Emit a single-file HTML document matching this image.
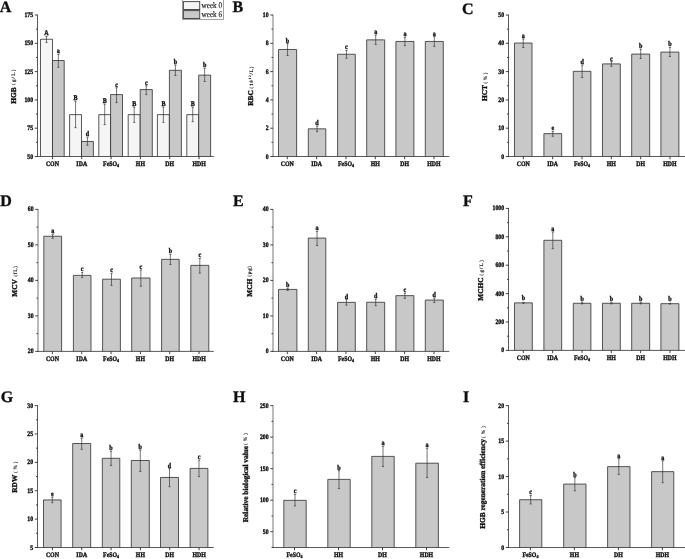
<!DOCTYPE html>
<html lang="en"><head><meta charset="utf-8"><title>Figure</title>
<style>
html,body{margin:0;padding:0;background:#fff;}
body{width:685px;height:559px;overflow:hidden;}
svg{display:block;}
</style></head><body>
<svg width="685" height="559" viewBox="0 0 685 559" font-family='"Liberation Serif","Noto Serif CJK SC",serif' fill="#111" text-rendering="geometricPrecision">
<defs><filter id="soft" x="-2%" y="-2%" width="104%" height="104%"><feGaussianBlur stdDeviation="0.33"/></filter></defs>
<rect x="0" y="0" width="685" height="559" fill="#fff" stroke="none"/>
<g filter="url(#soft)">
<rect x="40.50" y="39.25" width="12.00" height="117.25" fill="#f5f5f5"/>
<path d="M40.50 156.50V39.25H52.50V156.50" fill="none" stroke="#2e2e2e" stroke-width="0.8"/>
<rect x="52.50" y="60.50" width="11.70" height="96.00" fill="#c8c8c8"/>
<path d="M52.50 156.50V60.50H64.20V156.50" fill="none" stroke="#2e2e2e" stroke-width="0.8"/>
<rect x="69.60" y="114.61" width="11.90" height="41.89" fill="#f5f5f5"/>
<path d="M69.60 156.50V114.61H81.50V156.50" fill="none" stroke="#2e2e2e" stroke-width="0.8"/>
<rect x="81.50" y="141.47" width="11.90" height="15.03" fill="#c8c8c8"/>
<path d="M81.50 156.50V141.47H93.40V156.50" fill="none" stroke="#2e2e2e" stroke-width="0.8"/>
<rect x="98.80" y="114.61" width="11.80" height="41.89" fill="#f5f5f5"/>
<path d="M98.80 156.50V114.61H110.60V156.50" fill="none" stroke="#2e2e2e" stroke-width="0.8"/>
<rect x="110.60" y="94.57" width="11.90" height="61.93" fill="#c8c8c8"/>
<path d="M110.60 156.50V94.57H122.50V156.50" fill="none" stroke="#2e2e2e" stroke-width="0.8"/>
<rect x="128.20" y="114.61" width="12.00" height="41.89" fill="#f5f5f5"/>
<path d="M128.20 156.50V114.61H140.20V156.50" fill="none" stroke="#2e2e2e" stroke-width="0.8"/>
<rect x="140.20" y="89.56" width="12.10" height="66.94" fill="#c8c8c8"/>
<path d="M140.20 156.50V89.56H152.30V156.50" fill="none" stroke="#2e2e2e" stroke-width="0.8"/>
<rect x="157.40" y="114.61" width="12.00" height="41.89" fill="#f5f5f5"/>
<path d="M157.40 156.50V114.61H169.40V156.50" fill="none" stroke="#2e2e2e" stroke-width="0.8"/>
<rect x="169.40" y="70.32" width="12.00" height="86.18" fill="#c8c8c8"/>
<path d="M169.40 156.50V70.32H181.40V156.50" fill="none" stroke="#2e2e2e" stroke-width="0.8"/>
<rect x="186.80" y="114.61" width="11.90" height="41.89" fill="#f5f5f5"/>
<path d="M186.80 156.50V114.61H198.70V156.50" fill="none" stroke="#2e2e2e" stroke-width="0.8"/>
<rect x="198.70" y="75.13" width="11.90" height="81.37" fill="#c8c8c8"/>
<path d="M198.70 156.50V75.13H210.60V156.50" fill="none" stroke="#2e2e2e" stroke-width="0.8"/>
<line x1="46.50" y1="36.45" x2="46.50" y2="42.46" stroke="#2e2e2e" stroke-width="0.65"/>
<line x1="45.40" y1="36.45" x2="47.60" y2="36.45" stroke="#2e2e2e" stroke-width="0.65"/>
<line x1="45.40" y1="42.46" x2="47.60" y2="42.46" stroke="#2e2e2e" stroke-width="0.65"/>
<text transform="translate(46.50,35.35) scale(0.93,1.1)" font-size="6.5" text-anchor="middle" font-weight="bold" stroke="#111" stroke-width="0.34">A</text>
<line x1="58.35" y1="54.48" x2="58.35" y2="67.31" stroke="#2e2e2e" stroke-width="0.65"/>
<line x1="57.25" y1="54.48" x2="59.45" y2="54.48" stroke="#2e2e2e" stroke-width="0.65"/>
<line x1="57.25" y1="67.31" x2="59.45" y2="67.31" stroke="#2e2e2e" stroke-width="0.65"/>
<text transform="translate(58.35,53.38) scale(0.93,1.1)" font-size="6.5" text-anchor="middle" font-weight="bold" stroke="#111" stroke-width="0.34">a</text>
<line x1="75.55" y1="101.18" x2="75.55" y2="127.64" stroke="#2e2e2e" stroke-width="0.65"/>
<line x1="74.45" y1="101.18" x2="76.65" y2="101.18" stroke="#2e2e2e" stroke-width="0.65"/>
<line x1="74.45" y1="127.64" x2="76.65" y2="127.64" stroke="#2e2e2e" stroke-width="0.65"/>
<text transform="translate(75.55,100.08) scale(0.93,1.1)" font-size="6.5" text-anchor="middle" font-weight="bold" stroke="#111" stroke-width="0.34">B</text>
<line x1="87.45" y1="137.26" x2="87.45" y2="145.28" stroke="#2e2e2e" stroke-width="0.65"/>
<line x1="86.35" y1="137.26" x2="88.55" y2="137.26" stroke="#2e2e2e" stroke-width="0.65"/>
<line x1="86.35" y1="145.28" x2="88.55" y2="145.28" stroke="#2e2e2e" stroke-width="0.65"/>
<text transform="translate(87.45,136.16) scale(0.93,1.1)" font-size="6.5" text-anchor="middle" font-weight="bold" stroke="#111" stroke-width="0.34">d</text>
<line x1="104.70" y1="104.19" x2="104.70" y2="124.63" stroke="#2e2e2e" stroke-width="0.65"/>
<line x1="103.60" y1="104.19" x2="105.80" y2="104.19" stroke="#2e2e2e" stroke-width="0.65"/>
<line x1="103.60" y1="124.63" x2="105.80" y2="124.63" stroke="#2e2e2e" stroke-width="0.65"/>
<text transform="translate(104.70,103.09) scale(0.93,1.1)" font-size="6.5" text-anchor="middle" font-weight="bold" stroke="#111" stroke-width="0.34">B</text>
<line x1="116.55" y1="87.75" x2="116.55" y2="102.59" stroke="#2e2e2e" stroke-width="0.65"/>
<line x1="115.45" y1="87.75" x2="117.65" y2="87.75" stroke="#2e2e2e" stroke-width="0.65"/>
<line x1="115.45" y1="102.59" x2="117.65" y2="102.59" stroke="#2e2e2e" stroke-width="0.65"/>
<text transform="translate(116.55,86.65) scale(0.93,1.1)" font-size="6.5" text-anchor="middle" font-weight="bold" stroke="#111" stroke-width="0.34">c</text>
<line x1="134.20" y1="107.20" x2="134.20" y2="122.43" stroke="#2e2e2e" stroke-width="0.65"/>
<line x1="133.10" y1="107.20" x2="135.30" y2="107.20" stroke="#2e2e2e" stroke-width="0.65"/>
<line x1="133.10" y1="122.43" x2="135.30" y2="122.43" stroke="#2e2e2e" stroke-width="0.65"/>
<text transform="translate(134.20,106.10) scale(0.93,1.1)" font-size="6.5" text-anchor="middle" font-weight="bold" stroke="#111" stroke-width="0.34">B</text>
<line x1="146.25" y1="85.75" x2="146.25" y2="94.57" stroke="#2e2e2e" stroke-width="0.65"/>
<line x1="145.15" y1="85.75" x2="147.35" y2="85.75" stroke="#2e2e2e" stroke-width="0.65"/>
<line x1="145.15" y1="94.57" x2="147.35" y2="94.57" stroke="#2e2e2e" stroke-width="0.65"/>
<text transform="translate(146.25,84.65) scale(0.93,1.1)" font-size="6.5" text-anchor="middle" font-weight="bold" stroke="#111" stroke-width="0.34">c</text>
<line x1="163.40" y1="107.20" x2="163.40" y2="122.43" stroke="#2e2e2e" stroke-width="0.65"/>
<line x1="162.30" y1="107.20" x2="164.50" y2="107.20" stroke="#2e2e2e" stroke-width="0.65"/>
<line x1="162.30" y1="122.43" x2="164.50" y2="122.43" stroke="#2e2e2e" stroke-width="0.65"/>
<text transform="translate(163.40,106.10) scale(0.93,1.1)" font-size="6.5" text-anchor="middle" font-weight="bold" stroke="#111" stroke-width="0.34">B</text>
<line x1="175.40" y1="65.11" x2="175.40" y2="75.53" stroke="#2e2e2e" stroke-width="0.65"/>
<line x1="174.30" y1="65.11" x2="176.50" y2="65.11" stroke="#2e2e2e" stroke-width="0.65"/>
<line x1="174.30" y1="75.53" x2="176.50" y2="75.53" stroke="#2e2e2e" stroke-width="0.65"/>
<text transform="translate(175.40,64.01) scale(0.93,1.1)" font-size="6.5" text-anchor="middle" font-weight="bold" stroke="#111" stroke-width="0.34">b</text>
<line x1="192.75" y1="107.20" x2="192.75" y2="121.63" stroke="#2e2e2e" stroke-width="0.65"/>
<line x1="191.65" y1="107.20" x2="193.85" y2="107.20" stroke="#2e2e2e" stroke-width="0.65"/>
<line x1="191.65" y1="121.63" x2="193.85" y2="121.63" stroke="#2e2e2e" stroke-width="0.65"/>
<text transform="translate(192.75,106.10) scale(0.93,1.1)" font-size="6.5" text-anchor="middle" font-weight="bold" stroke="#111" stroke-width="0.34">B</text>
<line x1="204.65" y1="68.31" x2="204.65" y2="81.54" stroke="#2e2e2e" stroke-width="0.65"/>
<line x1="203.55" y1="68.31" x2="205.75" y2="68.31" stroke="#2e2e2e" stroke-width="0.65"/>
<line x1="203.55" y1="81.54" x2="205.75" y2="81.54" stroke="#2e2e2e" stroke-width="0.65"/>
<text transform="translate(204.65,67.21) scale(0.93,1.1)" font-size="6.5" text-anchor="middle" font-weight="bold" stroke="#111" stroke-width="0.34">b</text>
<line x1="37.50" y1="14.60" x2="37.50" y2="156.95" stroke="#2e2e2e" stroke-width="0.8"/>
<line x1="37.05" y1="156.50" x2="213.80" y2="156.50" stroke="#2e2e2e" stroke-width="0.8"/>
<line x1="34.80" y1="15.00" x2="37.50" y2="15.00" stroke="#2e2e2e" stroke-width="0.9"/>
<text transform="translate(33.10,17.00) scale(0.93,1.1)" font-size="6.2" text-anchor="end" font-weight="bold" stroke="#111" stroke-width="0.34">175</text>
<line x1="36.00" y1="29.15" x2="37.50" y2="29.15" stroke="#2e2e2e" stroke-width="0.9"/>
<line x1="34.80" y1="43.30" x2="37.50" y2="43.30" stroke="#2e2e2e" stroke-width="0.9"/>
<text transform="translate(33.10,45.30) scale(0.93,1.1)" font-size="6.2" text-anchor="end" font-weight="bold" stroke="#111" stroke-width="0.34">150</text>
<line x1="36.00" y1="57.45" x2="37.50" y2="57.45" stroke="#2e2e2e" stroke-width="0.9"/>
<line x1="34.80" y1="71.60" x2="37.50" y2="71.60" stroke="#2e2e2e" stroke-width="0.9"/>
<text transform="translate(33.10,73.60) scale(0.93,1.1)" font-size="6.2" text-anchor="end" font-weight="bold" stroke="#111" stroke-width="0.34">125</text>
<line x1="36.00" y1="85.75" x2="37.50" y2="85.75" stroke="#2e2e2e" stroke-width="0.9"/>
<line x1="34.80" y1="99.90" x2="37.50" y2="99.90" stroke="#2e2e2e" stroke-width="0.9"/>
<text transform="translate(33.10,101.90) scale(0.93,1.1)" font-size="6.2" text-anchor="end" font-weight="bold" stroke="#111" stroke-width="0.34">100</text>
<line x1="36.00" y1="114.05" x2="37.50" y2="114.05" stroke="#2e2e2e" stroke-width="0.9"/>
<line x1="34.80" y1="128.20" x2="37.50" y2="128.20" stroke="#2e2e2e" stroke-width="0.9"/>
<text transform="translate(33.10,130.20) scale(0.93,1.1)" font-size="6.2" text-anchor="end" font-weight="bold" stroke="#111" stroke-width="0.34">75</text>
<line x1="36.00" y1="142.35" x2="37.50" y2="142.35" stroke="#2e2e2e" stroke-width="0.9"/>
<line x1="34.80" y1="156.50" x2="37.50" y2="156.50" stroke="#2e2e2e" stroke-width="0.9"/>
<text transform="translate(33.10,158.50) scale(0.93,1.1)" font-size="6.2" text-anchor="end" font-weight="bold" stroke="#111" stroke-width="0.34">50</text>
<line x1="52.40" y1="156.50" x2="52.40" y2="159.20" stroke="#2e2e2e" stroke-width="0.9"/>
<text transform="translate(52.40,165.80) scale(0.93,1.1)" font-size="6.3" text-anchor="middle" font-weight="bold" stroke="#111" stroke-width="0.34">CON</text>
<line x1="81.73" y1="156.50" x2="81.73" y2="159.20" stroke="#2e2e2e" stroke-width="0.9"/>
<text transform="translate(81.73,165.80) scale(0.93,1.1)" font-size="6.3" text-anchor="middle" font-weight="bold" stroke="#111" stroke-width="0.34">IDA</text>
<line x1="111.07" y1="156.50" x2="111.07" y2="159.20" stroke="#2e2e2e" stroke-width="0.9"/>
<text transform="translate(111.07,165.80) scale(0.93,1.1)" font-size="6.3" text-anchor="middle" font-weight="bold" stroke="#111" stroke-width="0.34">FeSO<tspan font-size="4.2" dy="1.3">4</tspan></text>
<line x1="140.40" y1="156.50" x2="140.40" y2="159.20" stroke="#2e2e2e" stroke-width="0.9"/>
<text transform="translate(140.40,165.80) scale(0.93,1.1)" font-size="6.3" text-anchor="middle" font-weight="bold" stroke="#111" stroke-width="0.34">HH</text>
<line x1="169.73" y1="156.50" x2="169.73" y2="159.20" stroke="#2e2e2e" stroke-width="0.9"/>
<text transform="translate(169.73,165.80) scale(0.93,1.1)" font-size="6.3" text-anchor="middle" font-weight="bold" stroke="#111" stroke-width="0.34">DH</text>
<line x1="199.07" y1="156.50" x2="199.07" y2="159.20" stroke="#2e2e2e" stroke-width="0.9"/>
<text transform="translate(199.07,165.80) scale(0.93,1.1)" font-size="6.3" text-anchor="middle" font-weight="bold" stroke="#111" stroke-width="0.34">HDH</text>
<text transform="translate(15.80,103.70) rotate(-90) scale(1.035,1.05)" text-anchor="start" font-weight="bold" font-size="7.1" stroke="#111" stroke-width="0.34">HGB</text>
<text transform="translate(15.40,85.00) rotate(-90)" text-anchor="start" font-weight="bold" font-size="5.0" textLength="15.50" lengthAdjust="spacing" stroke="#111" stroke-width="0.12"><tspan font-weight="normal">(</tspan>g/L<tspan font-weight="normal">)</tspan></text>
<text transform="translate(-0.30,11.90)" font-size="16.0" text-anchor="start" font-weight="bold" stroke="#111" stroke-width="0.34">A</text>
<rect x="278.50" y="49.47" width="18.10" height="107.03" fill="#c8c8c8"/>
<path d="M278.50 156.50V49.47H296.60V156.50" fill="none" stroke="#2e2e2e" stroke-width="0.8"/>
<rect x="308.30" y="128.84" width="17.50" height="27.66" fill="#c8c8c8"/>
<path d="M308.30 156.50V128.84H325.80V156.50" fill="none" stroke="#2e2e2e" stroke-width="0.8"/>
<rect x="337.60" y="54.28" width="17.70" height="102.22" fill="#c8c8c8"/>
<path d="M337.60 156.50V54.28H355.30V156.50" fill="none" stroke="#2e2e2e" stroke-width="0.8"/>
<rect x="366.70" y="39.85" width="18.00" height="116.65" fill="#c8c8c8"/>
<path d="M366.70 156.50V39.85H384.70V156.50" fill="none" stroke="#2e2e2e" stroke-width="0.8"/>
<rect x="395.90" y="41.46" width="18.00" height="115.04" fill="#c8c8c8"/>
<path d="M395.90 156.50V41.46H413.90V156.50" fill="none" stroke="#2e2e2e" stroke-width="0.8"/>
<rect x="425.30" y="41.46" width="18.00" height="115.04" fill="#c8c8c8"/>
<path d="M425.30 156.50V41.46H443.30V156.50" fill="none" stroke="#2e2e2e" stroke-width="0.8"/>
<line x1="287.55" y1="43.66" x2="287.55" y2="55.49" stroke="#2e2e2e" stroke-width="0.65"/>
<line x1="286.45" y1="43.66" x2="288.65" y2="43.66" stroke="#2e2e2e" stroke-width="0.65"/>
<line x1="286.45" y1="55.49" x2="288.65" y2="55.49" stroke="#2e2e2e" stroke-width="0.65"/>
<text transform="translate(287.55,42.56) scale(0.93,1.1)" font-size="6.5" text-anchor="middle" font-weight="bold" stroke="#111" stroke-width="0.34">b</text>
<line x1="317.05" y1="126.24" x2="317.05" y2="131.65" stroke="#2e2e2e" stroke-width="0.65"/>
<line x1="315.95" y1="126.24" x2="318.15" y2="126.24" stroke="#2e2e2e" stroke-width="0.65"/>
<line x1="315.95" y1="131.65" x2="318.15" y2="131.65" stroke="#2e2e2e" stroke-width="0.65"/>
<text transform="translate(317.05,125.14) scale(0.93,1.1)" font-size="6.5" text-anchor="middle" font-weight="bold" stroke="#111" stroke-width="0.34">d</text>
<line x1="346.45" y1="50.48" x2="346.45" y2="58.29" stroke="#2e2e2e" stroke-width="0.65"/>
<line x1="345.35" y1="50.48" x2="347.55" y2="50.48" stroke="#2e2e2e" stroke-width="0.65"/>
<line x1="345.35" y1="58.29" x2="347.55" y2="58.29" stroke="#2e2e2e" stroke-width="0.65"/>
<text transform="translate(346.45,49.38) scale(0.93,1.1)" font-size="6.5" text-anchor="middle" font-weight="bold" stroke="#111" stroke-width="0.34">c</text>
<line x1="375.70" y1="35.24" x2="375.70" y2="44.46" stroke="#2e2e2e" stroke-width="0.65"/>
<line x1="374.60" y1="35.24" x2="376.80" y2="35.24" stroke="#2e2e2e" stroke-width="0.65"/>
<line x1="374.60" y1="44.46" x2="376.80" y2="44.46" stroke="#2e2e2e" stroke-width="0.65"/>
<text transform="translate(375.70,34.14) scale(0.93,1.1)" font-size="6.5" text-anchor="middle" font-weight="bold" stroke="#111" stroke-width="0.34">a</text>
<line x1="404.90" y1="37.45" x2="404.90" y2="45.67" stroke="#2e2e2e" stroke-width="0.65"/>
<line x1="403.80" y1="37.45" x2="406.00" y2="37.45" stroke="#2e2e2e" stroke-width="0.65"/>
<line x1="403.80" y1="45.67" x2="406.00" y2="45.67" stroke="#2e2e2e" stroke-width="0.65"/>
<text transform="translate(404.90,36.35) scale(0.93,1.1)" font-size="6.5" text-anchor="middle" font-weight="bold" stroke="#111" stroke-width="0.34">a</text>
<line x1="434.30" y1="36.65" x2="434.30" y2="46.47" stroke="#2e2e2e" stroke-width="0.65"/>
<line x1="433.20" y1="36.65" x2="435.40" y2="36.65" stroke="#2e2e2e" stroke-width="0.65"/>
<line x1="433.20" y1="46.47" x2="435.40" y2="46.47" stroke="#2e2e2e" stroke-width="0.65"/>
<text transform="translate(434.30,35.55) scale(0.93,1.1)" font-size="6.5" text-anchor="middle" font-weight="bold" stroke="#111" stroke-width="0.34">a</text>
<line x1="273.00" y1="14.60" x2="273.00" y2="156.95" stroke="#777" stroke-width="1.0"/>
<line x1="272.55" y1="156.50" x2="449.30" y2="156.50" stroke="#2e2e2e" stroke-width="0.8"/>
<line x1="270.30" y1="15.00" x2="273.00" y2="15.00" stroke="#2e2e2e" stroke-width="0.9"/>
<text transform="translate(268.60,17.00) scale(0.93,1.1)" font-size="6.2" text-anchor="end" font-weight="bold" stroke="#111" stroke-width="0.34">10</text>
<line x1="271.50" y1="29.15" x2="273.00" y2="29.15" stroke="#2e2e2e" stroke-width="0.9"/>
<line x1="270.30" y1="43.30" x2="273.00" y2="43.30" stroke="#2e2e2e" stroke-width="0.9"/>
<text transform="translate(268.60,45.30) scale(0.93,1.1)" font-size="6.2" text-anchor="end" font-weight="bold" stroke="#111" stroke-width="0.34">8</text>
<line x1="271.50" y1="57.45" x2="273.00" y2="57.45" stroke="#2e2e2e" stroke-width="0.9"/>
<line x1="270.30" y1="71.60" x2="273.00" y2="71.60" stroke="#2e2e2e" stroke-width="0.9"/>
<text transform="translate(268.60,73.60) scale(0.93,1.1)" font-size="6.2" text-anchor="end" font-weight="bold" stroke="#111" stroke-width="0.34">6</text>
<line x1="271.50" y1="85.75" x2="273.00" y2="85.75" stroke="#2e2e2e" stroke-width="0.9"/>
<line x1="270.30" y1="99.90" x2="273.00" y2="99.90" stroke="#2e2e2e" stroke-width="0.9"/>
<text transform="translate(268.60,101.90) scale(0.93,1.1)" font-size="6.2" text-anchor="end" font-weight="bold" stroke="#111" stroke-width="0.34">4</text>
<line x1="271.50" y1="114.05" x2="273.00" y2="114.05" stroke="#2e2e2e" stroke-width="0.9"/>
<line x1="270.30" y1="128.20" x2="273.00" y2="128.20" stroke="#2e2e2e" stroke-width="0.9"/>
<text transform="translate(268.60,130.20) scale(0.93,1.1)" font-size="6.2" text-anchor="end" font-weight="bold" stroke="#111" stroke-width="0.34">2</text>
<line x1="271.50" y1="142.35" x2="273.00" y2="142.35" stroke="#2e2e2e" stroke-width="0.9"/>
<line x1="270.30" y1="156.50" x2="273.00" y2="156.50" stroke="#2e2e2e" stroke-width="0.9"/>
<text transform="translate(268.60,158.50) scale(0.93,1.1)" font-size="6.2" text-anchor="end" font-weight="bold" stroke="#111" stroke-width="0.34">0</text>
<line x1="287.30" y1="156.50" x2="287.30" y2="159.20" stroke="#2e2e2e" stroke-width="0.9"/>
<text transform="translate(287.30,165.80) scale(0.93,1.1)" font-size="6.3" text-anchor="middle" font-weight="bold" stroke="#111" stroke-width="0.34">CON</text>
<line x1="316.63" y1="156.50" x2="316.63" y2="159.20" stroke="#2e2e2e" stroke-width="0.9"/>
<text transform="translate(316.63,165.80) scale(0.93,1.1)" font-size="6.3" text-anchor="middle" font-weight="bold" stroke="#111" stroke-width="0.34">IDA</text>
<line x1="345.97" y1="156.50" x2="345.97" y2="159.20" stroke="#2e2e2e" stroke-width="0.9"/>
<text transform="translate(345.97,165.80) scale(0.93,1.1)" font-size="6.3" text-anchor="middle" font-weight="bold" stroke="#111" stroke-width="0.34">FeSO<tspan font-size="4.2" dy="1.3">4</tspan></text>
<line x1="375.30" y1="156.50" x2="375.30" y2="159.20" stroke="#2e2e2e" stroke-width="0.9"/>
<text transform="translate(375.30,165.80) scale(0.93,1.1)" font-size="6.3" text-anchor="middle" font-weight="bold" stroke="#111" stroke-width="0.34">HH</text>
<line x1="404.63" y1="156.50" x2="404.63" y2="159.20" stroke="#2e2e2e" stroke-width="0.9"/>
<text transform="translate(404.63,165.80) scale(0.93,1.1)" font-size="6.3" text-anchor="middle" font-weight="bold" stroke="#111" stroke-width="0.34">DH</text>
<line x1="433.97" y1="156.50" x2="433.97" y2="159.20" stroke="#2e2e2e" stroke-width="0.9"/>
<text transform="translate(433.97,165.80) scale(0.93,1.1)" font-size="6.3" text-anchor="middle" font-weight="bold" stroke="#111" stroke-width="0.34">HDH</text>
<text transform="translate(253.00,105.70) rotate(-90) scale(1.035,1.05)" text-anchor="start" font-weight="bold" font-size="7.1" stroke="#111" stroke-width="0.34">RBC</text>
<text transform="translate(252.60,88.50) rotate(-90)" text-anchor="start" font-weight="bold" font-size="5.0" textLength="22.00" lengthAdjust="spacing" stroke="#111" stroke-width="0.12"><tspan font-weight="normal">(</tspan>10<tspan font-size="3.4" dy="-1.7">12</tspan><tspan dy="1.7">/L</tspan><tspan font-weight="normal">)</tspan></text>
<text transform="translate(232.40,11.80)" font-size="16.0" text-anchor="start" font-weight="bold" stroke="#111" stroke-width="0.34">B</text>
<rect x="514.50" y="43.06" width="17.50" height="113.44" fill="#c8c8c8"/>
<path d="M514.50 156.50V43.06H532.00V156.50" fill="none" stroke="#2e2e2e" stroke-width="0.8"/>
<rect x="543.90" y="133.65" width="17.80" height="22.85" fill="#c8c8c8"/>
<path d="M543.90 156.50V133.65H561.70V156.50" fill="none" stroke="#2e2e2e" stroke-width="0.8"/>
<rect x="573.30" y="71.32" width="17.60" height="85.18" fill="#c8c8c8"/>
<path d="M573.30 156.50V71.32H590.90V156.50" fill="none" stroke="#2e2e2e" stroke-width="0.8"/>
<rect x="602.50" y="63.90" width="17.80" height="92.60" fill="#c8c8c8"/>
<path d="M602.50 156.50V63.90H620.30V156.50" fill="none" stroke="#2e2e2e" stroke-width="0.8"/>
<rect x="631.70" y="54.08" width="18.00" height="102.42" fill="#c8c8c8"/>
<path d="M631.70 156.50V54.08H649.70V156.50" fill="none" stroke="#2e2e2e" stroke-width="0.8"/>
<rect x="660.90" y="52.08" width="18.00" height="104.42" fill="#c8c8c8"/>
<path d="M660.90 156.50V52.08H678.90V156.50" fill="none" stroke="#2e2e2e" stroke-width="0.8"/>
<line x1="523.25" y1="39.05" x2="523.25" y2="47.47" stroke="#2e2e2e" stroke-width="0.65"/>
<line x1="522.15" y1="39.05" x2="524.35" y2="39.05" stroke="#2e2e2e" stroke-width="0.65"/>
<line x1="522.15" y1="47.47" x2="524.35" y2="47.47" stroke="#2e2e2e" stroke-width="0.65"/>
<text transform="translate(523.25,37.95) scale(0.93,1.1)" font-size="6.5" text-anchor="middle" font-weight="bold" stroke="#111" stroke-width="0.34">a</text>
<line x1="552.80" y1="131.45" x2="552.80" y2="136.26" stroke="#2e2e2e" stroke-width="0.65"/>
<line x1="551.70" y1="131.45" x2="553.90" y2="131.45" stroke="#2e2e2e" stroke-width="0.65"/>
<line x1="551.70" y1="136.26" x2="553.90" y2="136.26" stroke="#2e2e2e" stroke-width="0.65"/>
<text transform="translate(552.80,130.35) scale(0.93,1.1)" font-size="6.5" text-anchor="middle" font-weight="bold" stroke="#111" stroke-width="0.34">e</text>
<line x1="582.10" y1="65.11" x2="582.10" y2="77.53" stroke="#2e2e2e" stroke-width="0.65"/>
<line x1="581.00" y1="65.11" x2="583.20" y2="65.11" stroke="#2e2e2e" stroke-width="0.65"/>
<line x1="581.00" y1="77.53" x2="583.20" y2="77.53" stroke="#2e2e2e" stroke-width="0.65"/>
<text transform="translate(582.10,64.01) scale(0.93,1.1)" font-size="6.5" text-anchor="middle" font-weight="bold" stroke="#111" stroke-width="0.34">d</text>
<line x1="611.40" y1="61.70" x2="611.40" y2="66.31" stroke="#2e2e2e" stroke-width="0.65"/>
<line x1="610.30" y1="61.70" x2="612.50" y2="61.70" stroke="#2e2e2e" stroke-width="0.65"/>
<line x1="610.30" y1="66.31" x2="612.50" y2="66.31" stroke="#2e2e2e" stroke-width="0.65"/>
<text transform="translate(611.40,60.60) scale(0.93,1.1)" font-size="6.5" text-anchor="middle" font-weight="bold" stroke="#111" stroke-width="0.34">c</text>
<line x1="640.70" y1="49.47" x2="640.70" y2="58.49" stroke="#2e2e2e" stroke-width="0.65"/>
<line x1="639.60" y1="49.47" x2="641.80" y2="49.47" stroke="#2e2e2e" stroke-width="0.65"/>
<line x1="639.60" y1="58.49" x2="641.80" y2="58.49" stroke="#2e2e2e" stroke-width="0.65"/>
<text transform="translate(640.70,48.37) scale(0.93,1.1)" font-size="6.5" text-anchor="middle" font-weight="bold" stroke="#111" stroke-width="0.34">b</text>
<line x1="669.90" y1="47.47" x2="669.90" y2="56.49" stroke="#2e2e2e" stroke-width="0.65"/>
<line x1="668.80" y1="47.47" x2="671.00" y2="47.47" stroke="#2e2e2e" stroke-width="0.65"/>
<line x1="668.80" y1="56.49" x2="671.00" y2="56.49" stroke="#2e2e2e" stroke-width="0.65"/>
<text transform="translate(669.90,46.37) scale(0.93,1.1)" font-size="6.5" text-anchor="middle" font-weight="bold" stroke="#111" stroke-width="0.34">b</text>
<line x1="508.50" y1="14.60" x2="508.50" y2="156.95" stroke="#2e2e2e" stroke-width="0.8"/>
<line x1="508.05" y1="156.50" x2="685.00" y2="156.50" stroke="#2e2e2e" stroke-width="0.8"/>
<line x1="505.80" y1="15.00" x2="508.50" y2="15.00" stroke="#2e2e2e" stroke-width="0.9"/>
<text transform="translate(504.10,17.00) scale(0.93,1.1)" font-size="6.2" text-anchor="end" font-weight="bold" stroke="#111" stroke-width="0.34">50</text>
<line x1="507.00" y1="29.15" x2="508.50" y2="29.15" stroke="#2e2e2e" stroke-width="0.9"/>
<line x1="505.80" y1="43.30" x2="508.50" y2="43.30" stroke="#2e2e2e" stroke-width="0.9"/>
<text transform="translate(504.10,45.30) scale(0.93,1.1)" font-size="6.2" text-anchor="end" font-weight="bold" stroke="#111" stroke-width="0.34">40</text>
<line x1="507.00" y1="57.45" x2="508.50" y2="57.45" stroke="#2e2e2e" stroke-width="0.9"/>
<line x1="505.80" y1="71.60" x2="508.50" y2="71.60" stroke="#2e2e2e" stroke-width="0.9"/>
<text transform="translate(504.10,73.60) scale(0.93,1.1)" font-size="6.2" text-anchor="end" font-weight="bold" stroke="#111" stroke-width="0.34">30</text>
<line x1="507.00" y1="85.75" x2="508.50" y2="85.75" stroke="#2e2e2e" stroke-width="0.9"/>
<line x1="505.80" y1="99.90" x2="508.50" y2="99.90" stroke="#2e2e2e" stroke-width="0.9"/>
<text transform="translate(504.10,101.90) scale(0.93,1.1)" font-size="6.2" text-anchor="end" font-weight="bold" stroke="#111" stroke-width="0.34">20</text>
<line x1="507.00" y1="114.05" x2="508.50" y2="114.05" stroke="#2e2e2e" stroke-width="0.9"/>
<line x1="505.80" y1="128.20" x2="508.50" y2="128.20" stroke="#2e2e2e" stroke-width="0.9"/>
<text transform="translate(504.10,130.20) scale(0.93,1.1)" font-size="6.2" text-anchor="end" font-weight="bold" stroke="#111" stroke-width="0.34">10</text>
<line x1="507.00" y1="142.35" x2="508.50" y2="142.35" stroke="#2e2e2e" stroke-width="0.9"/>
<line x1="505.80" y1="156.50" x2="508.50" y2="156.50" stroke="#2e2e2e" stroke-width="0.9"/>
<text transform="translate(504.10,158.50) scale(0.93,1.1)" font-size="6.2" text-anchor="end" font-weight="bold" stroke="#111" stroke-width="0.34">0</text>
<line x1="523.30" y1="156.50" x2="523.30" y2="159.20" stroke="#2e2e2e" stroke-width="0.9"/>
<text transform="translate(523.30,165.80) scale(0.93,1.1)" font-size="6.3" text-anchor="middle" font-weight="bold" stroke="#111" stroke-width="0.34">CON</text>
<line x1="552.63" y1="156.50" x2="552.63" y2="159.20" stroke="#2e2e2e" stroke-width="0.9"/>
<text transform="translate(552.63,165.80) scale(0.93,1.1)" font-size="6.3" text-anchor="middle" font-weight="bold" stroke="#111" stroke-width="0.34">IDA</text>
<line x1="581.97" y1="156.50" x2="581.97" y2="159.20" stroke="#2e2e2e" stroke-width="0.9"/>
<text transform="translate(581.97,165.80) scale(0.93,1.1)" font-size="6.3" text-anchor="middle" font-weight="bold" stroke="#111" stroke-width="0.34">FeSO<tspan font-size="4.2" dy="1.3">4</tspan></text>
<line x1="611.30" y1="156.50" x2="611.30" y2="159.20" stroke="#2e2e2e" stroke-width="0.9"/>
<text transform="translate(611.30,165.80) scale(0.93,1.1)" font-size="6.3" text-anchor="middle" font-weight="bold" stroke="#111" stroke-width="0.34">HH</text>
<line x1="640.63" y1="156.50" x2="640.63" y2="159.20" stroke="#2e2e2e" stroke-width="0.9"/>
<text transform="translate(640.63,165.80) scale(0.93,1.1)" font-size="6.3" text-anchor="middle" font-weight="bold" stroke="#111" stroke-width="0.34">DH</text>
<line x1="669.97" y1="156.50" x2="669.97" y2="159.20" stroke="#2e2e2e" stroke-width="0.9"/>
<text transform="translate(669.97,165.80) scale(0.93,1.1)" font-size="6.3" text-anchor="middle" font-weight="bold" stroke="#111" stroke-width="0.34">HDH</text>
<text transform="translate(487.00,101.00) rotate(-90) scale(1.035,1.05)" text-anchor="start" font-weight="bold" font-size="7.1" stroke="#111" stroke-width="0.34">HCT</text>
<text transform="translate(486.60,83.50) rotate(-90)" text-anchor="start" font-weight="bold" font-size="5.0" textLength="11.00" lengthAdjust="spacing" stroke="#111" stroke-width="0.12"><tspan font-weight="normal">(</tspan>%<tspan font-weight="normal">)</tspan></text>
<text transform="translate(462.00,13.70)" font-size="16.0" text-anchor="start" font-weight="bold" stroke="#111" stroke-width="0.34">C</text>
<rect x="43.80" y="236.28" width="17.80" height="115.12" fill="#c8c8c8"/>
<path d="M43.80 351.40V236.28H61.60V351.40" fill="none" stroke="#2e2e2e" stroke-width="0.8"/>
<rect x="73.40" y="275.39" width="17.60" height="76.01" fill="#c8c8c8"/>
<path d="M73.40 351.40V275.39H91.00V351.40" fill="none" stroke="#2e2e2e" stroke-width="0.8"/>
<rect x="102.60" y="279.20" width="17.80" height="72.20" fill="#c8c8c8"/>
<path d="M102.60 351.40V279.20H120.40V351.40" fill="none" stroke="#2e2e2e" stroke-width="0.8"/>
<rect x="131.70" y="277.99" width="18.30" height="73.41" fill="#c8c8c8"/>
<path d="M131.70 351.40V277.99H150.00V351.40" fill="none" stroke="#2e2e2e" stroke-width="0.8"/>
<rect x="161.60" y="259.34" width="17.60" height="92.06" fill="#c8c8c8"/>
<path d="M161.60 351.40V259.34H179.20V351.40" fill="none" stroke="#2e2e2e" stroke-width="0.8"/>
<rect x="190.80" y="265.36" width="18.00" height="86.04" fill="#c8c8c8"/>
<path d="M190.80 351.40V265.36H208.80V351.40" fill="none" stroke="#2e2e2e" stroke-width="0.8"/>
<line x1="52.70" y1="234.47" x2="52.70" y2="238.28" stroke="#2e2e2e" stroke-width="0.65"/>
<line x1="51.60" y1="234.47" x2="53.80" y2="234.47" stroke="#2e2e2e" stroke-width="0.65"/>
<line x1="51.60" y1="238.28" x2="53.80" y2="238.28" stroke="#2e2e2e" stroke-width="0.65"/>
<text transform="translate(52.70,233.37) scale(0.93,1.1)" font-size="6.5" text-anchor="middle" font-weight="bold" stroke="#111" stroke-width="0.34">a</text>
<line x1="82.20" y1="272.58" x2="82.20" y2="277.59" stroke="#2e2e2e" stroke-width="0.65"/>
<line x1="81.10" y1="272.58" x2="83.30" y2="272.58" stroke="#2e2e2e" stroke-width="0.65"/>
<line x1="81.10" y1="277.59" x2="83.30" y2="277.59" stroke="#2e2e2e" stroke-width="0.65"/>
<text transform="translate(82.20,271.48) scale(0.93,1.1)" font-size="6.5" text-anchor="middle" font-weight="bold" stroke="#111" stroke-width="0.34">c</text>
<line x1="111.50" y1="273.38" x2="111.50" y2="285.41" stroke="#2e2e2e" stroke-width="0.65"/>
<line x1="110.40" y1="273.38" x2="112.60" y2="273.38" stroke="#2e2e2e" stroke-width="0.65"/>
<line x1="110.40" y1="285.41" x2="112.60" y2="285.41" stroke="#2e2e2e" stroke-width="0.65"/>
<text transform="translate(111.50,272.28) scale(0.93,1.1)" font-size="6.5" text-anchor="middle" font-weight="bold" stroke="#111" stroke-width="0.34">c</text>
<line x1="140.85" y1="270.17" x2="140.85" y2="286.22" stroke="#2e2e2e" stroke-width="0.65"/>
<line x1="139.75" y1="270.17" x2="141.95" y2="270.17" stroke="#2e2e2e" stroke-width="0.65"/>
<line x1="139.75" y1="286.22" x2="141.95" y2="286.22" stroke="#2e2e2e" stroke-width="0.65"/>
<text transform="translate(140.85,269.07) scale(0.93,1.1)" font-size="6.5" text-anchor="middle" font-weight="bold" stroke="#111" stroke-width="0.34">c</text>
<line x1="170.40" y1="254.53" x2="170.40" y2="264.56" stroke="#2e2e2e" stroke-width="0.65"/>
<line x1="169.30" y1="254.53" x2="171.50" y2="254.53" stroke="#2e2e2e" stroke-width="0.65"/>
<line x1="169.30" y1="264.56" x2="171.50" y2="264.56" stroke="#2e2e2e" stroke-width="0.65"/>
<text transform="translate(170.40,253.43) scale(0.93,1.1)" font-size="6.5" text-anchor="middle" font-weight="bold" stroke="#111" stroke-width="0.34">b</text>
<line x1="199.80" y1="258.54" x2="199.80" y2="273.18" stroke="#2e2e2e" stroke-width="0.65"/>
<line x1="198.70" y1="258.54" x2="200.90" y2="258.54" stroke="#2e2e2e" stroke-width="0.65"/>
<line x1="198.70" y1="273.18" x2="200.90" y2="273.18" stroke="#2e2e2e" stroke-width="0.65"/>
<text transform="translate(199.80,257.44) scale(0.93,1.1)" font-size="6.5" text-anchor="middle" font-weight="bold" stroke="#111" stroke-width="0.34">c</text>
<line x1="38.00" y1="209.00" x2="38.00" y2="351.85" stroke="#777" stroke-width="1.0"/>
<line x1="37.55" y1="351.40" x2="213.80" y2="351.40" stroke="#2e2e2e" stroke-width="0.8"/>
<line x1="35.30" y1="209.40" x2="38.00" y2="209.40" stroke="#2e2e2e" stroke-width="0.9"/>
<text transform="translate(33.60,211.40) scale(0.93,1.1)" font-size="6.2" text-anchor="end" font-weight="bold" stroke="#111" stroke-width="0.34">60</text>
<line x1="36.50" y1="227.15" x2="38.00" y2="227.15" stroke="#2e2e2e" stroke-width="0.9"/>
<line x1="35.30" y1="244.90" x2="38.00" y2="244.90" stroke="#2e2e2e" stroke-width="0.9"/>
<text transform="translate(33.60,246.90) scale(0.93,1.1)" font-size="6.2" text-anchor="end" font-weight="bold" stroke="#111" stroke-width="0.34">50</text>
<line x1="36.50" y1="262.65" x2="38.00" y2="262.65" stroke="#2e2e2e" stroke-width="0.9"/>
<line x1="35.30" y1="280.40" x2="38.00" y2="280.40" stroke="#2e2e2e" stroke-width="0.9"/>
<text transform="translate(33.60,282.40) scale(0.93,1.1)" font-size="6.2" text-anchor="end" font-weight="bold" stroke="#111" stroke-width="0.34">40</text>
<line x1="36.50" y1="298.15" x2="38.00" y2="298.15" stroke="#2e2e2e" stroke-width="0.9"/>
<line x1="35.30" y1="315.90" x2="38.00" y2="315.90" stroke="#2e2e2e" stroke-width="0.9"/>
<text transform="translate(33.60,317.90) scale(0.93,1.1)" font-size="6.2" text-anchor="end" font-weight="bold" stroke="#111" stroke-width="0.34">30</text>
<line x1="36.50" y1="333.65" x2="38.00" y2="333.65" stroke="#2e2e2e" stroke-width="0.9"/>
<line x1="35.30" y1="351.40" x2="38.00" y2="351.40" stroke="#2e2e2e" stroke-width="0.9"/>
<text transform="translate(33.60,353.40) scale(0.93,1.1)" font-size="6.2" text-anchor="end" font-weight="bold" stroke="#111" stroke-width="0.34">20</text>
<line x1="52.40" y1="351.40" x2="52.40" y2="354.10" stroke="#2e2e2e" stroke-width="0.9"/>
<text transform="translate(52.40,360.70) scale(0.93,1.1)" font-size="6.3" text-anchor="middle" font-weight="bold" stroke="#111" stroke-width="0.34">CON</text>
<line x1="81.73" y1="351.40" x2="81.73" y2="354.10" stroke="#2e2e2e" stroke-width="0.9"/>
<text transform="translate(81.73,360.70) scale(0.93,1.1)" font-size="6.3" text-anchor="middle" font-weight="bold" stroke="#111" stroke-width="0.34">IDA</text>
<line x1="111.07" y1="351.40" x2="111.07" y2="354.10" stroke="#2e2e2e" stroke-width="0.9"/>
<text transform="translate(111.07,360.70) scale(0.93,1.1)" font-size="6.3" text-anchor="middle" font-weight="bold" stroke="#111" stroke-width="0.34">FeSO<tspan font-size="4.2" dy="1.3">4</tspan></text>
<line x1="140.40" y1="351.40" x2="140.40" y2="354.10" stroke="#2e2e2e" stroke-width="0.9"/>
<text transform="translate(140.40,360.70) scale(0.93,1.1)" font-size="6.3" text-anchor="middle" font-weight="bold" stroke="#111" stroke-width="0.34">HH</text>
<line x1="169.73" y1="351.40" x2="169.73" y2="354.10" stroke="#2e2e2e" stroke-width="0.9"/>
<text transform="translate(169.73,360.70) scale(0.93,1.1)" font-size="6.3" text-anchor="middle" font-weight="bold" stroke="#111" stroke-width="0.34">DH</text>
<line x1="199.07" y1="351.40" x2="199.07" y2="354.10" stroke="#2e2e2e" stroke-width="0.9"/>
<text transform="translate(199.07,360.70) scale(0.93,1.1)" font-size="6.3" text-anchor="middle" font-weight="bold" stroke="#111" stroke-width="0.34">HDH</text>
<text transform="translate(17.30,296.70) rotate(-90) scale(1.035,1.05)" text-anchor="start" font-weight="bold" font-size="7.1" stroke="#111" stroke-width="0.34">MCV</text>
<text transform="translate(16.90,276.50) rotate(-90)" text-anchor="start" font-weight="bold" font-size="5.0" textLength="10.50" lengthAdjust="spacing" stroke="#111" stroke-width="0.12"><tspan font-weight="normal">(</tspan>fL<tspan font-weight="normal">)</tspan></text>
<text transform="translate(0.20,206.30)" font-size="16.0" text-anchor="start" font-weight="bold" stroke="#111" stroke-width="0.34">D</text>
<rect x="278.50" y="289.43" width="18.40" height="61.97" fill="#c8c8c8"/>
<path d="M278.50 351.40V289.43H296.90V351.40" fill="none" stroke="#2e2e2e" stroke-width="0.8"/>
<rect x="308.30" y="238.08" width="17.50" height="113.32" fill="#c8c8c8"/>
<path d="M308.30 351.40V238.08H325.80V351.40" fill="none" stroke="#2e2e2e" stroke-width="0.8"/>
<rect x="337.60" y="302.36" width="17.70" height="49.04" fill="#c8c8c8"/>
<path d="M337.60 351.40V302.36H355.30V351.40" fill="none" stroke="#2e2e2e" stroke-width="0.8"/>
<rect x="366.70" y="302.26" width="18.00" height="49.14" fill="#c8c8c8"/>
<path d="M366.70 351.40V302.26H384.70V351.40" fill="none" stroke="#2e2e2e" stroke-width="0.8"/>
<rect x="395.90" y="295.64" width="18.00" height="55.76" fill="#c8c8c8"/>
<path d="M395.90 351.40V295.64H413.90V351.40" fill="none" stroke="#2e2e2e" stroke-width="0.8"/>
<rect x="425.30" y="300.06" width="18.00" height="51.34" fill="#c8c8c8"/>
<path d="M425.30 351.40V300.06H443.30V351.40" fill="none" stroke="#2e2e2e" stroke-width="0.8"/>
<line x1="287.70" y1="288.42" x2="287.70" y2="290.43" stroke="#2e2e2e" stroke-width="0.65"/>
<line x1="286.60" y1="288.42" x2="288.80" y2="288.42" stroke="#2e2e2e" stroke-width="0.65"/>
<line x1="286.60" y1="290.43" x2="288.80" y2="290.43" stroke="#2e2e2e" stroke-width="0.65"/>
<text transform="translate(287.70,287.03) scale(0.93,1.1)" font-size="6.5" text-anchor="middle" font-weight="bold" stroke="#111" stroke-width="0.34">b</text>
<line x1="317.05" y1="231.46" x2="317.05" y2="245.50" stroke="#2e2e2e" stroke-width="0.65"/>
<line x1="315.95" y1="231.46" x2="318.15" y2="231.46" stroke="#2e2e2e" stroke-width="0.65"/>
<line x1="315.95" y1="245.50" x2="318.15" y2="245.50" stroke="#2e2e2e" stroke-width="0.65"/>
<text transform="translate(317.05,230.36) scale(0.93,1.1)" font-size="6.5" text-anchor="middle" font-weight="bold" stroke="#111" stroke-width="0.34">a</text>
<line x1="346.45" y1="299.65" x2="346.45" y2="305.17" stroke="#2e2e2e" stroke-width="0.65"/>
<line x1="345.35" y1="299.65" x2="347.55" y2="299.65" stroke="#2e2e2e" stroke-width="0.65"/>
<line x1="345.35" y1="305.17" x2="347.55" y2="305.17" stroke="#2e2e2e" stroke-width="0.65"/>
<text transform="translate(346.45,298.55) scale(0.93,1.1)" font-size="6.5" text-anchor="middle" font-weight="bold" stroke="#111" stroke-width="0.34">d</text>
<line x1="375.70" y1="299.25" x2="375.70" y2="305.67" stroke="#2e2e2e" stroke-width="0.65"/>
<line x1="374.60" y1="299.25" x2="376.80" y2="299.25" stroke="#2e2e2e" stroke-width="0.65"/>
<line x1="374.60" y1="305.67" x2="376.80" y2="305.67" stroke="#2e2e2e" stroke-width="0.65"/>
<text transform="translate(375.70,298.15) scale(0.93,1.1)" font-size="6.5" text-anchor="middle" font-weight="bold" stroke="#111" stroke-width="0.34">d</text>
<line x1="404.90" y1="293.24" x2="404.90" y2="298.45" stroke="#2e2e2e" stroke-width="0.65"/>
<line x1="403.80" y1="293.24" x2="406.00" y2="293.24" stroke="#2e2e2e" stroke-width="0.65"/>
<line x1="403.80" y1="298.45" x2="406.00" y2="298.45" stroke="#2e2e2e" stroke-width="0.65"/>
<text transform="translate(404.90,292.14) scale(0.93,1.1)" font-size="6.5" text-anchor="middle" font-weight="bold" stroke="#111" stroke-width="0.34">c</text>
<line x1="434.30" y1="298.05" x2="434.30" y2="302.46" stroke="#2e2e2e" stroke-width="0.65"/>
<line x1="433.20" y1="298.05" x2="435.40" y2="298.05" stroke="#2e2e2e" stroke-width="0.65"/>
<line x1="433.20" y1="302.46" x2="435.40" y2="302.46" stroke="#2e2e2e" stroke-width="0.65"/>
<text transform="translate(434.30,296.95) scale(0.93,1.1)" font-size="6.5" text-anchor="middle" font-weight="bold" stroke="#111" stroke-width="0.34">d</text>
<line x1="273.00" y1="209.00" x2="273.00" y2="351.85" stroke="#777" stroke-width="1.0"/>
<line x1="272.55" y1="351.40" x2="449.30" y2="351.40" stroke="#2e2e2e" stroke-width="0.8"/>
<line x1="270.30" y1="209.40" x2="273.00" y2="209.40" stroke="#2e2e2e" stroke-width="0.9"/>
<text transform="translate(268.60,211.40) scale(0.93,1.1)" font-size="6.2" text-anchor="end" font-weight="bold" stroke="#111" stroke-width="0.34">40</text>
<line x1="271.50" y1="227.15" x2="273.00" y2="227.15" stroke="#2e2e2e" stroke-width="0.9"/>
<line x1="270.30" y1="244.90" x2="273.00" y2="244.90" stroke="#2e2e2e" stroke-width="0.9"/>
<text transform="translate(268.60,246.90) scale(0.93,1.1)" font-size="6.2" text-anchor="end" font-weight="bold" stroke="#111" stroke-width="0.34">30</text>
<line x1="271.50" y1="262.65" x2="273.00" y2="262.65" stroke="#2e2e2e" stroke-width="0.9"/>
<line x1="270.30" y1="280.40" x2="273.00" y2="280.40" stroke="#2e2e2e" stroke-width="0.9"/>
<text transform="translate(268.60,282.40) scale(0.93,1.1)" font-size="6.2" text-anchor="end" font-weight="bold" stroke="#111" stroke-width="0.34">20</text>
<line x1="271.50" y1="298.15" x2="273.00" y2="298.15" stroke="#2e2e2e" stroke-width="0.9"/>
<line x1="270.30" y1="315.90" x2="273.00" y2="315.90" stroke="#2e2e2e" stroke-width="0.9"/>
<text transform="translate(268.60,317.90) scale(0.93,1.1)" font-size="6.2" text-anchor="end" font-weight="bold" stroke="#111" stroke-width="0.34">10</text>
<line x1="271.50" y1="333.65" x2="273.00" y2="333.65" stroke="#2e2e2e" stroke-width="0.9"/>
<line x1="270.30" y1="351.40" x2="273.00" y2="351.40" stroke="#2e2e2e" stroke-width="0.9"/>
<text transform="translate(268.60,353.40) scale(0.93,1.1)" font-size="6.2" text-anchor="end" font-weight="bold" stroke="#111" stroke-width="0.34">0</text>
<line x1="287.30" y1="351.40" x2="287.30" y2="354.10" stroke="#2e2e2e" stroke-width="0.9"/>
<text transform="translate(287.30,360.70) scale(0.93,1.1)" font-size="6.3" text-anchor="middle" font-weight="bold" stroke="#111" stroke-width="0.34">CON</text>
<line x1="316.63" y1="351.40" x2="316.63" y2="354.10" stroke="#2e2e2e" stroke-width="0.9"/>
<text transform="translate(316.63,360.70) scale(0.93,1.1)" font-size="6.3" text-anchor="middle" font-weight="bold" stroke="#111" stroke-width="0.34">IDA</text>
<line x1="345.97" y1="351.40" x2="345.97" y2="354.10" stroke="#2e2e2e" stroke-width="0.9"/>
<text transform="translate(345.97,360.70) scale(0.93,1.1)" font-size="6.3" text-anchor="middle" font-weight="bold" stroke="#111" stroke-width="0.34">FeSO<tspan font-size="4.2" dy="1.3">4</tspan></text>
<line x1="375.30" y1="351.40" x2="375.30" y2="354.10" stroke="#2e2e2e" stroke-width="0.9"/>
<text transform="translate(375.30,360.70) scale(0.93,1.1)" font-size="6.3" text-anchor="middle" font-weight="bold" stroke="#111" stroke-width="0.34">HH</text>
<line x1="404.63" y1="351.40" x2="404.63" y2="354.10" stroke="#2e2e2e" stroke-width="0.9"/>
<text transform="translate(404.63,360.70) scale(0.93,1.1)" font-size="6.3" text-anchor="middle" font-weight="bold" stroke="#111" stroke-width="0.34">DH</text>
<line x1="433.97" y1="351.40" x2="433.97" y2="354.10" stroke="#2e2e2e" stroke-width="0.9"/>
<text transform="translate(433.97,360.70) scale(0.93,1.1)" font-size="6.3" text-anchor="middle" font-weight="bold" stroke="#111" stroke-width="0.34">HDH</text>
<text transform="translate(251.50,296.70) rotate(-90) scale(1.035,1.05)" text-anchor="start" font-weight="bold" font-size="7.1" stroke="#111" stroke-width="0.34">MCH</text>
<text transform="translate(251.10,276.50) rotate(-90)" text-anchor="start" font-weight="bold" font-size="5.0" textLength="10.50" lengthAdjust="spacing" stroke="#111" stroke-width="0.12"><tspan font-weight="normal">(</tspan>pg<tspan font-weight="normal">)</tspan></text>
<text transform="translate(233.00,206.30)" font-size="16.0" text-anchor="start" font-weight="bold" stroke="#111" stroke-width="0.34">E</text>
<rect x="514.50" y="302.87" width="17.80" height="47.53" fill="#c8c8c8"/>
<path d="M514.50 350.40V302.87H532.30V350.40" fill="none" stroke="#2e2e2e" stroke-width="0.8"/>
<rect x="543.90" y="240.29" width="17.80" height="110.11" fill="#c8c8c8"/>
<path d="M543.90 350.40V240.29H561.70V350.40" fill="none" stroke="#2e2e2e" stroke-width="0.8"/>
<rect x="573.30" y="303.27" width="17.60" height="47.13" fill="#c8c8c8"/>
<path d="M573.30 350.40V303.27H590.90V350.40" fill="none" stroke="#2e2e2e" stroke-width="0.8"/>
<rect x="602.50" y="303.27" width="17.80" height="47.13" fill="#c8c8c8"/>
<path d="M602.50 350.40V303.27H620.30V350.40" fill="none" stroke="#2e2e2e" stroke-width="0.8"/>
<rect x="631.70" y="303.27" width="18.00" height="47.13" fill="#c8c8c8"/>
<path d="M631.70 350.40V303.27H649.70V350.40" fill="none" stroke="#2e2e2e" stroke-width="0.8"/>
<rect x="660.90" y="303.67" width="18.00" height="46.73" fill="#c8c8c8"/>
<path d="M660.90 350.40V303.67H678.90V350.40" fill="none" stroke="#2e2e2e" stroke-width="0.8"/>
<line x1="523.40" y1="302.36" x2="523.40" y2="303.37" stroke="#2e2e2e" stroke-width="0.65"/>
<line x1="522.30" y1="302.36" x2="524.50" y2="302.36" stroke="#2e2e2e" stroke-width="0.65"/>
<line x1="522.30" y1="303.37" x2="524.50" y2="303.37" stroke="#2e2e2e" stroke-width="0.65"/>
<text transform="translate(523.40,300.47) scale(0.93,1.1)" font-size="6.5" text-anchor="middle" font-weight="bold" stroke="#111" stroke-width="0.34">b</text>
<line x1="552.80" y1="232.07" x2="552.80" y2="248.71" stroke="#2e2e2e" stroke-width="0.65"/>
<line x1="551.70" y1="232.07" x2="553.90" y2="232.07" stroke="#2e2e2e" stroke-width="0.65"/>
<line x1="551.70" y1="248.71" x2="553.90" y2="248.71" stroke="#2e2e2e" stroke-width="0.65"/>
<text transform="translate(552.80,230.97) scale(0.93,1.1)" font-size="6.5" text-anchor="middle" font-weight="bold" stroke="#111" stroke-width="0.34">a</text>
<line x1="582.10" y1="302.67" x2="582.10" y2="303.87" stroke="#2e2e2e" stroke-width="0.65"/>
<line x1="581.00" y1="302.67" x2="583.20" y2="302.67" stroke="#2e2e2e" stroke-width="0.65"/>
<line x1="581.00" y1="303.87" x2="583.20" y2="303.87" stroke="#2e2e2e" stroke-width="0.65"/>
<text transform="translate(582.10,300.87) scale(0.93,1.1)" font-size="6.5" text-anchor="middle" font-weight="bold" stroke="#111" stroke-width="0.34">b</text>
<line x1="611.40" y1="302.67" x2="611.40" y2="303.87" stroke="#2e2e2e" stroke-width="0.65"/>
<line x1="610.30" y1="302.67" x2="612.50" y2="302.67" stroke="#2e2e2e" stroke-width="0.65"/>
<line x1="610.30" y1="303.87" x2="612.50" y2="303.87" stroke="#2e2e2e" stroke-width="0.65"/>
<text transform="translate(611.40,300.87) scale(0.93,1.1)" font-size="6.5" text-anchor="middle" font-weight="bold" stroke="#111" stroke-width="0.34">b</text>
<line x1="640.70" y1="302.67" x2="640.70" y2="303.87" stroke="#2e2e2e" stroke-width="0.65"/>
<line x1="639.60" y1="302.67" x2="641.80" y2="302.67" stroke="#2e2e2e" stroke-width="0.65"/>
<line x1="639.60" y1="303.87" x2="641.80" y2="303.87" stroke="#2e2e2e" stroke-width="0.65"/>
<text transform="translate(640.70,300.87) scale(0.93,1.1)" font-size="6.5" text-anchor="middle" font-weight="bold" stroke="#111" stroke-width="0.34">b</text>
<line x1="669.90" y1="303.27" x2="669.90" y2="304.07" stroke="#2e2e2e" stroke-width="0.65"/>
<line x1="668.80" y1="303.27" x2="671.00" y2="303.27" stroke="#2e2e2e" stroke-width="0.65"/>
<line x1="668.80" y1="304.07" x2="671.00" y2="304.07" stroke="#2e2e2e" stroke-width="0.65"/>
<text transform="translate(669.90,301.27) scale(0.93,1.1)" font-size="6.5" text-anchor="middle" font-weight="bold" stroke="#111" stroke-width="0.34">b</text>
<line x1="508.50" y1="208.00" x2="508.50" y2="350.85" stroke="#2e2e2e" stroke-width="0.8"/>
<line x1="508.05" y1="350.40" x2="685.00" y2="350.40" stroke="#2e2e2e" stroke-width="0.8"/>
<line x1="505.80" y1="208.40" x2="508.50" y2="208.40" stroke="#2e2e2e" stroke-width="0.9"/>
<text transform="translate(504.10,210.40) scale(0.93,1.1)" font-size="6.2" text-anchor="end" font-weight="bold" stroke="#111" stroke-width="0.34">1000</text>
<line x1="507.00" y1="222.60" x2="508.50" y2="222.60" stroke="#2e2e2e" stroke-width="0.9"/>
<line x1="505.80" y1="236.80" x2="508.50" y2="236.80" stroke="#2e2e2e" stroke-width="0.9"/>
<text transform="translate(504.10,238.80) scale(0.93,1.1)" font-size="6.2" text-anchor="end" font-weight="bold" stroke="#111" stroke-width="0.34">800</text>
<line x1="507.00" y1="251.00" x2="508.50" y2="251.00" stroke="#2e2e2e" stroke-width="0.9"/>
<line x1="505.80" y1="265.20" x2="508.50" y2="265.20" stroke="#2e2e2e" stroke-width="0.9"/>
<text transform="translate(504.10,267.20) scale(0.93,1.1)" font-size="6.2" text-anchor="end" font-weight="bold" stroke="#111" stroke-width="0.34">600</text>
<line x1="507.00" y1="279.40" x2="508.50" y2="279.40" stroke="#2e2e2e" stroke-width="0.9"/>
<line x1="505.80" y1="293.60" x2="508.50" y2="293.60" stroke="#2e2e2e" stroke-width="0.9"/>
<text transform="translate(504.10,295.60) scale(0.93,1.1)" font-size="6.2" text-anchor="end" font-weight="bold" stroke="#111" stroke-width="0.34">400</text>
<line x1="507.00" y1="307.80" x2="508.50" y2="307.80" stroke="#2e2e2e" stroke-width="0.9"/>
<line x1="505.80" y1="322.00" x2="508.50" y2="322.00" stroke="#2e2e2e" stroke-width="0.9"/>
<text transform="translate(504.10,324.00) scale(0.93,1.1)" font-size="6.2" text-anchor="end" font-weight="bold" stroke="#111" stroke-width="0.34">200</text>
<line x1="507.00" y1="336.20" x2="508.50" y2="336.20" stroke="#2e2e2e" stroke-width="0.9"/>
<line x1="505.80" y1="350.40" x2="508.50" y2="350.40" stroke="#2e2e2e" stroke-width="0.9"/>
<text transform="translate(504.10,352.40) scale(0.93,1.1)" font-size="6.2" text-anchor="end" font-weight="bold" stroke="#111" stroke-width="0.34">0</text>
<line x1="523.30" y1="350.40" x2="523.30" y2="353.10" stroke="#2e2e2e" stroke-width="0.9"/>
<text transform="translate(523.30,359.70) scale(0.93,1.1)" font-size="6.3" text-anchor="middle" font-weight="bold" stroke="#111" stroke-width="0.34">CON</text>
<line x1="552.63" y1="350.40" x2="552.63" y2="353.10" stroke="#2e2e2e" stroke-width="0.9"/>
<text transform="translate(552.63,359.70) scale(0.93,1.1)" font-size="6.3" text-anchor="middle" font-weight="bold" stroke="#111" stroke-width="0.34">IDA</text>
<line x1="581.97" y1="350.40" x2="581.97" y2="353.10" stroke="#2e2e2e" stroke-width="0.9"/>
<text transform="translate(581.97,359.70) scale(0.93,1.1)" font-size="6.3" text-anchor="middle" font-weight="bold" stroke="#111" stroke-width="0.34">FeSO<tspan font-size="4.2" dy="1.3">4</tspan></text>
<line x1="611.30" y1="350.40" x2="611.30" y2="353.10" stroke="#2e2e2e" stroke-width="0.9"/>
<text transform="translate(611.30,359.70) scale(0.93,1.1)" font-size="6.3" text-anchor="middle" font-weight="bold" stroke="#111" stroke-width="0.34">HH</text>
<line x1="640.63" y1="350.40" x2="640.63" y2="353.10" stroke="#2e2e2e" stroke-width="0.9"/>
<text transform="translate(640.63,359.70) scale(0.93,1.1)" font-size="6.3" text-anchor="middle" font-weight="bold" stroke="#111" stroke-width="0.34">DH</text>
<line x1="669.97" y1="350.40" x2="669.97" y2="353.10" stroke="#2e2e2e" stroke-width="0.9"/>
<text transform="translate(669.97,359.70) scale(0.93,1.1)" font-size="6.3" text-anchor="middle" font-weight="bold" stroke="#111" stroke-width="0.34">HDH</text>
<text transform="translate(483.20,300.70) rotate(-90) scale(1.035,1.05)" text-anchor="start" font-weight="bold" font-size="7.1" stroke="#111" stroke-width="0.34">MCHC</text>
<text transform="translate(482.80,275.50) rotate(-90)" text-anchor="start" font-weight="bold" font-size="5.0" textLength="15.50" lengthAdjust="spacing" stroke="#111" stroke-width="0.12"><tspan font-weight="normal">(</tspan>g/L<tspan font-weight="normal">)</tspan></text>
<text transform="translate(463.00,206.30)" font-size="16.0" text-anchor="start" font-weight="bold" stroke="#111" stroke-width="0.34">F</text>
<rect x="43.50" y="499.93" width="17.60" height="47.57" fill="#c8c8c8"/>
<path d="M43.50 547.50V499.93H61.10V547.50" fill="none" stroke="#2e2e2e" stroke-width="0.8"/>
<rect x="72.70" y="443.53" width="18.00" height="103.97" fill="#c8c8c8"/>
<path d="M72.70 547.50V443.53H90.70V547.50" fill="none" stroke="#2e2e2e" stroke-width="0.8"/>
<rect x="102.30" y="458.29" width="17.50" height="89.21" fill="#c8c8c8"/>
<path d="M102.30 547.50V458.29H119.80V547.50" fill="none" stroke="#2e2e2e" stroke-width="0.8"/>
<rect x="131.30" y="460.49" width="18.00" height="87.01" fill="#c8c8c8"/>
<path d="M131.30 547.50V460.49H149.30V547.50" fill="none" stroke="#2e2e2e" stroke-width="0.8"/>
<rect x="160.50" y="477.45" width="18.00" height="70.05" fill="#c8c8c8"/>
<path d="M160.50 547.50V477.45H178.50V547.50" fill="none" stroke="#2e2e2e" stroke-width="0.8"/>
<rect x="190.10" y="468.42" width="17.80" height="79.08" fill="#c8c8c8"/>
<path d="M190.10 547.50V468.42H207.90V547.50" fill="none" stroke="#2e2e2e" stroke-width="0.8"/>
<line x1="52.30" y1="497.12" x2="52.30" y2="502.74" stroke="#2e2e2e" stroke-width="0.65"/>
<line x1="51.20" y1="497.12" x2="53.40" y2="497.12" stroke="#2e2e2e" stroke-width="0.65"/>
<line x1="51.20" y1="502.74" x2="53.40" y2="502.74" stroke="#2e2e2e" stroke-width="0.65"/>
<text transform="translate(52.30,496.02) scale(0.93,1.1)" font-size="6.5" text-anchor="middle" font-weight="bold" stroke="#111" stroke-width="0.34">e</text>
<line x1="81.70" y1="438.11" x2="81.70" y2="449.35" stroke="#2e2e2e" stroke-width="0.65"/>
<line x1="80.60" y1="438.11" x2="82.80" y2="438.11" stroke="#2e2e2e" stroke-width="0.65"/>
<line x1="80.60" y1="449.35" x2="82.80" y2="449.35" stroke="#2e2e2e" stroke-width="0.65"/>
<text transform="translate(81.70,437.01) scale(0.93,1.1)" font-size="6.5" text-anchor="middle" font-weight="bold" stroke="#111" stroke-width="0.34">a</text>
<line x1="111.05" y1="451.26" x2="111.05" y2="465.41" stroke="#2e2e2e" stroke-width="0.65"/>
<line x1="109.95" y1="451.26" x2="112.15" y2="451.26" stroke="#2e2e2e" stroke-width="0.65"/>
<line x1="109.95" y1="465.41" x2="112.15" y2="465.41" stroke="#2e2e2e" stroke-width="0.65"/>
<text transform="translate(111.05,450.16) scale(0.93,1.1)" font-size="6.5" text-anchor="middle" font-weight="bold" stroke="#111" stroke-width="0.34">b</text>
<line x1="140.30" y1="449.96" x2="140.30" y2="471.43" stroke="#2e2e2e" stroke-width="0.65"/>
<line x1="139.20" y1="449.96" x2="141.40" y2="449.96" stroke="#2e2e2e" stroke-width="0.65"/>
<line x1="139.20" y1="471.43" x2="141.40" y2="471.43" stroke="#2e2e2e" stroke-width="0.65"/>
<text transform="translate(140.30,448.86) scale(0.93,1.1)" font-size="6.5" text-anchor="middle" font-weight="bold" stroke="#111" stroke-width="0.34">b</text>
<line x1="169.50" y1="468.62" x2="169.50" y2="486.69" stroke="#2e2e2e" stroke-width="0.65"/>
<line x1="168.40" y1="468.62" x2="170.60" y2="468.62" stroke="#2e2e2e" stroke-width="0.65"/>
<line x1="168.40" y1="486.69" x2="170.60" y2="486.69" stroke="#2e2e2e" stroke-width="0.65"/>
<text transform="translate(169.50,467.52) scale(0.93,1.1)" font-size="6.5" text-anchor="middle" font-weight="bold" stroke="#111" stroke-width="0.34">d</text>
<line x1="199.00" y1="460.19" x2="199.00" y2="476.65" stroke="#2e2e2e" stroke-width="0.65"/>
<line x1="197.90" y1="460.19" x2="200.10" y2="460.19" stroke="#2e2e2e" stroke-width="0.65"/>
<line x1="197.90" y1="476.65" x2="200.10" y2="476.65" stroke="#2e2e2e" stroke-width="0.65"/>
<text transform="translate(199.00,459.09) scale(0.93,1.1)" font-size="6.5" text-anchor="middle" font-weight="bold" stroke="#111" stroke-width="0.34">c</text>
<line x1="37.50" y1="405.20" x2="37.50" y2="547.95" stroke="#2e2e2e" stroke-width="0.8"/>
<line x1="37.05" y1="547.50" x2="213.80" y2="547.50" stroke="#2e2e2e" stroke-width="0.8"/>
<line x1="34.80" y1="405.60" x2="37.50" y2="405.60" stroke="#2e2e2e" stroke-width="0.9"/>
<text transform="translate(33.10,407.60) scale(0.93,1.1)" font-size="6.2" text-anchor="end" font-weight="bold" stroke="#111" stroke-width="0.34">30</text>
<line x1="36.00" y1="419.79" x2="37.50" y2="419.79" stroke="#2e2e2e" stroke-width="0.9"/>
<line x1="34.80" y1="433.98" x2="37.50" y2="433.98" stroke="#2e2e2e" stroke-width="0.9"/>
<text transform="translate(33.10,435.98) scale(0.93,1.1)" font-size="6.2" text-anchor="end" font-weight="bold" stroke="#111" stroke-width="0.34">25</text>
<line x1="36.00" y1="448.17" x2="37.50" y2="448.17" stroke="#2e2e2e" stroke-width="0.9"/>
<line x1="34.80" y1="462.36" x2="37.50" y2="462.36" stroke="#2e2e2e" stroke-width="0.9"/>
<text transform="translate(33.10,464.36) scale(0.93,1.1)" font-size="6.2" text-anchor="end" font-weight="bold" stroke="#111" stroke-width="0.34">20</text>
<line x1="36.00" y1="476.55" x2="37.50" y2="476.55" stroke="#2e2e2e" stroke-width="0.9"/>
<line x1="34.80" y1="490.74" x2="37.50" y2="490.74" stroke="#2e2e2e" stroke-width="0.9"/>
<text transform="translate(33.10,492.74) scale(0.93,1.1)" font-size="6.2" text-anchor="end" font-weight="bold" stroke="#111" stroke-width="0.34">15</text>
<line x1="36.00" y1="504.93" x2="37.50" y2="504.93" stroke="#2e2e2e" stroke-width="0.9"/>
<line x1="34.80" y1="519.12" x2="37.50" y2="519.12" stroke="#2e2e2e" stroke-width="0.9"/>
<text transform="translate(33.10,521.12) scale(0.93,1.1)" font-size="6.2" text-anchor="end" font-weight="bold" stroke="#111" stroke-width="0.34">10</text>
<line x1="36.00" y1="533.31" x2="37.50" y2="533.31" stroke="#2e2e2e" stroke-width="0.9"/>
<line x1="34.80" y1="547.50" x2="37.50" y2="547.50" stroke="#2e2e2e" stroke-width="0.9"/>
<text transform="translate(33.10,549.50) scale(0.93,1.1)" font-size="6.2" text-anchor="end" font-weight="bold" stroke="#111" stroke-width="0.34">5</text>
<line x1="52.40" y1="547.50" x2="52.40" y2="550.20" stroke="#2e2e2e" stroke-width="0.9"/>
<text transform="translate(52.40,556.80) scale(0.93,1.1)" font-size="6.3" text-anchor="middle" font-weight="bold" stroke="#111" stroke-width="0.34">CON</text>
<line x1="81.73" y1="547.50" x2="81.73" y2="550.20" stroke="#2e2e2e" stroke-width="0.9"/>
<text transform="translate(81.73,556.80) scale(0.93,1.1)" font-size="6.3" text-anchor="middle" font-weight="bold" stroke="#111" stroke-width="0.34">IDA</text>
<line x1="111.07" y1="547.50" x2="111.07" y2="550.20" stroke="#2e2e2e" stroke-width="0.9"/>
<text transform="translate(111.07,556.80) scale(0.93,1.1)" font-size="6.3" text-anchor="middle" font-weight="bold" stroke="#111" stroke-width="0.34">FeSO<tspan font-size="4.2" dy="1.3">4</tspan></text>
<line x1="140.40" y1="547.50" x2="140.40" y2="550.20" stroke="#2e2e2e" stroke-width="0.9"/>
<text transform="translate(140.40,556.80) scale(0.93,1.1)" font-size="6.3" text-anchor="middle" font-weight="bold" stroke="#111" stroke-width="0.34">HH</text>
<line x1="169.73" y1="547.50" x2="169.73" y2="550.20" stroke="#2e2e2e" stroke-width="0.9"/>
<text transform="translate(169.73,556.80) scale(0.93,1.1)" font-size="6.3" text-anchor="middle" font-weight="bold" stroke="#111" stroke-width="0.34">DH</text>
<line x1="199.07" y1="547.50" x2="199.07" y2="550.20" stroke="#2e2e2e" stroke-width="0.9"/>
<text transform="translate(199.07,556.80) scale(0.93,1.1)" font-size="6.3" text-anchor="middle" font-weight="bold" stroke="#111" stroke-width="0.34">HDH</text>
<text transform="translate(17.20,492.70) rotate(-90) scale(1.035,1.05)" text-anchor="start" font-weight="bold" font-size="7.1" stroke="#111" stroke-width="0.34">RDW</text>
<text transform="translate(16.80,473.00) rotate(-90)" text-anchor="start" font-weight="bold" font-size="5.0" textLength="11.50" lengthAdjust="spacing" stroke="#111" stroke-width="0.12"><tspan font-weight="normal">(</tspan>%<tspan font-weight="normal">)</tspan></text>
<text transform="translate(0.80,402.00)" font-size="16.0" text-anchor="start" font-weight="bold" stroke="#111" stroke-width="0.34">G</text>
<rect x="283.80" y="500.33" width="22.40" height="47.17" fill="#c8c8c8"/>
<path d="M283.80 547.50V500.33H306.20V547.50" fill="none" stroke="#2e2e2e" stroke-width="0.8"/>
<rect x="327.80" y="479.36" width="22.40" height="68.14" fill="#c8c8c8"/>
<path d="M327.80 547.50V479.36H350.20V547.50" fill="none" stroke="#2e2e2e" stroke-width="0.8"/>
<rect x="371.80" y="456.38" width="22.40" height="91.12" fill="#c8c8c8"/>
<path d="M371.80 547.50V456.38H394.20V547.50" fill="none" stroke="#2e2e2e" stroke-width="0.8"/>
<rect x="415.80" y="463.20" width="22.60" height="84.30" fill="#c8c8c8"/>
<path d="M415.80 547.50V463.20H438.40V547.50" fill="none" stroke="#2e2e2e" stroke-width="0.8"/>
<line x1="295.00" y1="494.31" x2="295.00" y2="505.95" stroke="#2e2e2e" stroke-width="0.65"/>
<line x1="293.90" y1="494.31" x2="296.10" y2="494.31" stroke="#2e2e2e" stroke-width="0.65"/>
<line x1="293.90" y1="505.95" x2="296.10" y2="505.95" stroke="#2e2e2e" stroke-width="0.65"/>
<text transform="translate(295.00,493.21) scale(0.93,1.1)" font-size="6.5" text-anchor="middle" font-weight="bold" stroke="#111" stroke-width="0.34">c</text>
<line x1="339.00" y1="470.73" x2="339.00" y2="488.59" stroke="#2e2e2e" stroke-width="0.65"/>
<line x1="337.90" y1="470.73" x2="340.10" y2="470.73" stroke="#2e2e2e" stroke-width="0.65"/>
<line x1="337.90" y1="488.59" x2="340.10" y2="488.59" stroke="#2e2e2e" stroke-width="0.65"/>
<text transform="translate(339.00,469.63) scale(0.93,1.1)" font-size="6.5" text-anchor="middle" font-weight="bold" stroke="#111" stroke-width="0.34">b</text>
<line x1="383.00" y1="446.34" x2="383.00" y2="466.41" stroke="#2e2e2e" stroke-width="0.65"/>
<line x1="381.90" y1="446.34" x2="384.10" y2="446.34" stroke="#2e2e2e" stroke-width="0.65"/>
<line x1="381.90" y1="466.41" x2="384.10" y2="466.41" stroke="#2e2e2e" stroke-width="0.65"/>
<text transform="translate(383.00,445.24) scale(0.93,1.1)" font-size="6.5" text-anchor="middle" font-weight="bold" stroke="#111" stroke-width="0.34">a</text>
<line x1="427.10" y1="448.35" x2="427.10" y2="477.45" stroke="#2e2e2e" stroke-width="0.65"/>
<line x1="426.00" y1="448.35" x2="428.20" y2="448.35" stroke="#2e2e2e" stroke-width="0.65"/>
<line x1="426.00" y1="477.45" x2="428.20" y2="477.45" stroke="#2e2e2e" stroke-width="0.65"/>
<text transform="translate(427.10,447.25) scale(0.93,1.1)" font-size="6.5" text-anchor="middle" font-weight="bold" stroke="#111" stroke-width="0.34">a</text>
<line x1="273.00" y1="405.20" x2="273.00" y2="547.95" stroke="#777" stroke-width="1.0"/>
<line x1="272.55" y1="547.50" x2="449.30" y2="547.50" stroke="#2e2e2e" stroke-width="0.8"/>
<line x1="270.30" y1="405.60" x2="273.00" y2="405.60" stroke="#2e2e2e" stroke-width="0.9"/>
<text transform="translate(268.60,407.60) scale(0.93,1.1)" font-size="6.2" text-anchor="end" font-weight="bold" stroke="#111" stroke-width="0.34">250</text>
<line x1="271.50" y1="421.36" x2="273.00" y2="421.36" stroke="#2e2e2e" stroke-width="0.9"/>
<line x1="270.30" y1="437.12" x2="273.00" y2="437.12" stroke="#2e2e2e" stroke-width="0.9"/>
<text transform="translate(268.60,439.12) scale(0.93,1.1)" font-size="6.2" text-anchor="end" font-weight="bold" stroke="#111" stroke-width="0.34">200</text>
<line x1="271.50" y1="452.89" x2="273.00" y2="452.89" stroke="#2e2e2e" stroke-width="0.9"/>
<line x1="270.30" y1="468.65" x2="273.00" y2="468.65" stroke="#2e2e2e" stroke-width="0.9"/>
<text transform="translate(268.60,470.65) scale(0.93,1.1)" font-size="6.2" text-anchor="end" font-weight="bold" stroke="#111" stroke-width="0.34">150</text>
<line x1="271.50" y1="484.41" x2="273.00" y2="484.41" stroke="#2e2e2e" stroke-width="0.9"/>
<line x1="270.30" y1="500.18" x2="273.00" y2="500.18" stroke="#2e2e2e" stroke-width="0.9"/>
<text transform="translate(268.60,502.18) scale(0.93,1.1)" font-size="6.2" text-anchor="end" font-weight="bold" stroke="#111" stroke-width="0.34">100</text>
<line x1="271.50" y1="515.94" x2="273.00" y2="515.94" stroke="#2e2e2e" stroke-width="0.9"/>
<line x1="270.30" y1="531.70" x2="273.00" y2="531.70" stroke="#2e2e2e" stroke-width="0.9"/>
<text transform="translate(268.60,533.70) scale(0.93,1.1)" font-size="6.2" text-anchor="end" font-weight="bold" stroke="#111" stroke-width="0.34">50</text>
<line x1="271.50" y1="547.46" x2="273.00" y2="547.46" stroke="#2e2e2e" stroke-width="0.9"/>
<line x1="294.50" y1="547.50" x2="294.50" y2="550.20" stroke="#2e2e2e" stroke-width="0.9"/>
<text transform="translate(294.50,556.80) scale(0.93,1.1)" font-size="6.3" text-anchor="middle" font-weight="bold" stroke="#111" stroke-width="0.34">FeSO<tspan font-size="4.2" dy="1.3">4</tspan></text>
<line x1="338.50" y1="547.50" x2="338.50" y2="550.20" stroke="#2e2e2e" stroke-width="0.9"/>
<text transform="translate(338.50,556.80) scale(0.93,1.1)" font-size="6.3" text-anchor="middle" font-weight="bold" stroke="#111" stroke-width="0.34">HH</text>
<line x1="382.50" y1="547.50" x2="382.50" y2="550.20" stroke="#2e2e2e" stroke-width="0.9"/>
<text transform="translate(382.50,556.80) scale(0.93,1.1)" font-size="6.3" text-anchor="middle" font-weight="bold" stroke="#111" stroke-width="0.34">DH</text>
<line x1="426.50" y1="547.50" x2="426.50" y2="550.20" stroke="#2e2e2e" stroke-width="0.9"/>
<text transform="translate(426.50,556.80) scale(0.93,1.1)" font-size="6.3" text-anchor="middle" font-weight="bold" stroke="#111" stroke-width="0.34">HDH</text>
<text transform="translate(247.80,522.20) rotate(-90) scale(1.035,1.05)" text-anchor="start" font-weight="bold" font-size="7.1" stroke="#111" stroke-width="0.34">Relative biological value</text>
<text transform="translate(247.40,445.00) rotate(-90)" text-anchor="start" font-weight="bold" font-size="5.0" textLength="12.00" lengthAdjust="spacing" stroke="#111" stroke-width="0.12"><tspan font-weight="normal">(</tspan>%<tspan font-weight="normal">)</tspan></text>
<text transform="translate(233.00,402.00)" font-size="16.0" text-anchor="start" font-weight="bold" stroke="#111" stroke-width="0.34">H</text>
<rect x="519.60" y="499.73" width="22.20" height="47.77" fill="#c8c8c8"/>
<path d="M519.60 547.50V499.73H541.80V547.50" fill="none" stroke="#2e2e2e" stroke-width="0.8"/>
<rect x="563.70" y="484.08" width="22.30" height="63.42" fill="#c8c8c8"/>
<path d="M563.70 547.50V484.08H586.00V547.50" fill="none" stroke="#2e2e2e" stroke-width="0.8"/>
<rect x="607.60" y="466.61" width="22.40" height="80.89" fill="#c8c8c8"/>
<path d="M607.60 547.50V466.61H630.00V547.50" fill="none" stroke="#2e2e2e" stroke-width="0.8"/>
<rect x="651.60" y="471.63" width="22.20" height="75.87" fill="#c8c8c8"/>
<path d="M651.60 547.50V471.63H673.80V547.50" fill="none" stroke="#2e2e2e" stroke-width="0.8"/>
<line x1="530.70" y1="495.52" x2="530.70" y2="503.95" stroke="#2e2e2e" stroke-width="0.65"/>
<line x1="529.60" y1="495.52" x2="531.80" y2="495.52" stroke="#2e2e2e" stroke-width="0.65"/>
<line x1="529.60" y1="503.95" x2="531.80" y2="503.95" stroke="#2e2e2e" stroke-width="0.65"/>
<text transform="translate(530.70,494.42) scale(0.93,1.1)" font-size="6.5" text-anchor="middle" font-weight="bold" stroke="#111" stroke-width="0.34">c</text>
<line x1="574.85" y1="477.65" x2="574.85" y2="490.70" stroke="#2e2e2e" stroke-width="0.65"/>
<line x1="573.75" y1="477.65" x2="575.95" y2="477.65" stroke="#2e2e2e" stroke-width="0.65"/>
<line x1="573.75" y1="490.70" x2="575.95" y2="490.70" stroke="#2e2e2e" stroke-width="0.65"/>
<text transform="translate(574.85,476.55) scale(0.93,1.1)" font-size="6.5" text-anchor="middle" font-weight="bold" stroke="#111" stroke-width="0.34">b</text>
<line x1="618.80" y1="458.79" x2="618.80" y2="474.44" stroke="#2e2e2e" stroke-width="0.65"/>
<line x1="617.70" y1="458.79" x2="619.90" y2="458.79" stroke="#2e2e2e" stroke-width="0.65"/>
<line x1="617.70" y1="474.44" x2="619.90" y2="474.44" stroke="#2e2e2e" stroke-width="0.65"/>
<text transform="translate(618.80,457.69) scale(0.93,1.1)" font-size="6.5" text-anchor="middle" font-weight="bold" stroke="#111" stroke-width="0.34">a</text>
<line x1="662.70" y1="460.79" x2="662.70" y2="482.67" stroke="#2e2e2e" stroke-width="0.65"/>
<line x1="661.60" y1="460.79" x2="663.80" y2="460.79" stroke="#2e2e2e" stroke-width="0.65"/>
<line x1="661.60" y1="482.67" x2="663.80" y2="482.67" stroke="#2e2e2e" stroke-width="0.65"/>
<text transform="translate(662.70,459.69) scale(0.93,1.1)" font-size="6.5" text-anchor="middle" font-weight="bold" stroke="#111" stroke-width="0.34">a</text>
<line x1="508.50" y1="405.20" x2="508.50" y2="547.95" stroke="#2e2e2e" stroke-width="0.8"/>
<line x1="508.05" y1="547.50" x2="685.00" y2="547.50" stroke="#2e2e2e" stroke-width="0.8"/>
<line x1="505.80" y1="405.60" x2="508.50" y2="405.60" stroke="#2e2e2e" stroke-width="0.9"/>
<text transform="translate(504.10,407.60) scale(0.93,1.1)" font-size="6.2" text-anchor="end" font-weight="bold" stroke="#111" stroke-width="0.34">20</text>
<line x1="507.00" y1="423.34" x2="508.50" y2="423.34" stroke="#2e2e2e" stroke-width="0.9"/>
<line x1="505.80" y1="441.08" x2="508.50" y2="441.08" stroke="#2e2e2e" stroke-width="0.9"/>
<text transform="translate(504.10,443.08) scale(0.93,1.1)" font-size="6.2" text-anchor="end" font-weight="bold" stroke="#111" stroke-width="0.34">15</text>
<line x1="507.00" y1="458.81" x2="508.50" y2="458.81" stroke="#2e2e2e" stroke-width="0.9"/>
<line x1="505.80" y1="476.55" x2="508.50" y2="476.55" stroke="#2e2e2e" stroke-width="0.9"/>
<text transform="translate(504.10,478.55) scale(0.93,1.1)" font-size="6.2" text-anchor="end" font-weight="bold" stroke="#111" stroke-width="0.34">10</text>
<line x1="507.00" y1="494.29" x2="508.50" y2="494.29" stroke="#2e2e2e" stroke-width="0.9"/>
<line x1="505.80" y1="512.02" x2="508.50" y2="512.02" stroke="#2e2e2e" stroke-width="0.9"/>
<text transform="translate(504.10,514.02) scale(0.93,1.1)" font-size="6.2" text-anchor="end" font-weight="bold" stroke="#111" stroke-width="0.34">5</text>
<line x1="507.00" y1="529.76" x2="508.50" y2="529.76" stroke="#2e2e2e" stroke-width="0.9"/>
<line x1="505.80" y1="547.50" x2="508.50" y2="547.50" stroke="#2e2e2e" stroke-width="0.9"/>
<text transform="translate(504.10,549.50) scale(0.93,1.1)" font-size="6.2" text-anchor="end" font-weight="bold" stroke="#111" stroke-width="0.34">0</text>
<line x1="530.40" y1="547.50" x2="530.40" y2="550.20" stroke="#2e2e2e" stroke-width="0.9"/>
<text transform="translate(530.40,556.80) scale(0.93,1.1)" font-size="6.3" text-anchor="middle" font-weight="bold" stroke="#111" stroke-width="0.34">FeSO<tspan font-size="4.2" dy="1.3">4</tspan></text>
<line x1="574.40" y1="547.50" x2="574.40" y2="550.20" stroke="#2e2e2e" stroke-width="0.9"/>
<text transform="translate(574.40,556.80) scale(0.93,1.1)" font-size="6.3" text-anchor="middle" font-weight="bold" stroke="#111" stroke-width="0.34">HH</text>
<line x1="618.40" y1="547.50" x2="618.40" y2="550.20" stroke="#2e2e2e" stroke-width="0.9"/>
<text transform="translate(618.40,556.80) scale(0.93,1.1)" font-size="6.3" text-anchor="middle" font-weight="bold" stroke="#111" stroke-width="0.34">DH</text>
<line x1="662.40" y1="547.50" x2="662.40" y2="550.20" stroke="#2e2e2e" stroke-width="0.9"/>
<text transform="translate(662.40,556.80) scale(0.93,1.1)" font-size="6.3" text-anchor="middle" font-weight="bold" stroke="#111" stroke-width="0.34">HDH</text>
<text transform="translate(485.40,528.70) rotate(-90) scale(1.035,1.05)" text-anchor="start" font-weight="bold" font-size="7.1" stroke="#111" stroke-width="0.34">HGB regeneration efficiency</text>
<text transform="translate(485.00,438.00) rotate(-90)" text-anchor="start" font-weight="bold" font-size="5.0" textLength="12.00" lengthAdjust="spacing" stroke="#111" stroke-width="0.12"><tspan font-weight="normal">(</tspan>%<tspan font-weight="normal">)</tspan></text>
<text transform="translate(463.00,402.00)" font-size="16.0" text-anchor="start" font-weight="bold" stroke="#111" stroke-width="0.34">I</text>
<rect x="182.50" y="-1.00" width="41.00" height="20.50" fill="#fff" stroke="#8a8a8a" stroke-width="0.8"/>
<rect x="183.40" y="1.60" width="16.30" height="7.90" fill="#f5f5f5" stroke="#4a4a4a" stroke-width="1.0"/>
<rect x="183.40" y="10.60" width="16.30" height="7.90" fill="#c8c8c8" stroke="#4a4a4a" stroke-width="1.0"/>
<text transform="translate(201.50,8.00) scale(0.93,1.1)" font-size="7.75" text-anchor="start" font-weight="normal" stroke="#111" stroke-width="0.12">week 0</text>
<text transform="translate(201.50,16.90) scale(0.93,1.1)" font-size="7.75" text-anchor="start" font-weight="normal" stroke="#111" stroke-width="0.12">week 6</text>
</g></svg>
</body></html>
